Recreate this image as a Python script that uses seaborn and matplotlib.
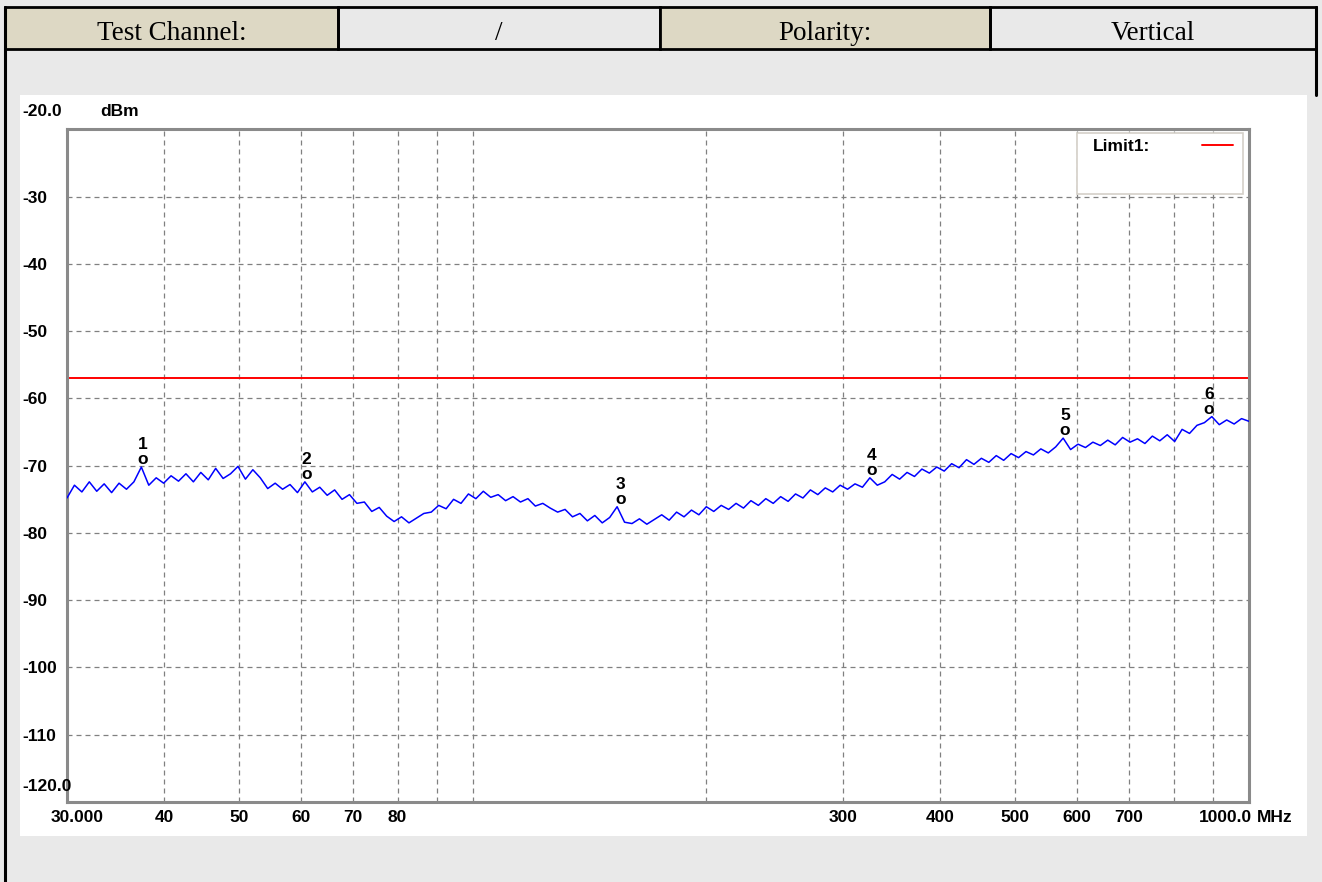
import numpy as np
import pandas as pd
import seaborn as sns
import matplotlib.pyplot as plt
from matplotlib.patches import Rectangle
from matplotlib.lines import Line2D

# --- data ---
header_text = ["Test Channel:", "/", "Polarity:", "Vertical"]

freq_min, freq_max = 30, 1000          # MHz
level_min, level_max = -120, -20       # dBm
y_ticks = [-30, -40, -50, -60, -70, -80, -90, -100, -110]
x_grid = [40, 50, 60, 70, 80, 90, 100, 200, 300, 400, 500, 600, 700, 800, 900]
x_labeled = [40, 50, 60, 70, 80, 300, 400, 500, 600, 700]

limit_level = -57.0

# measured trace (dBm), sweep points spread evenly on the log axis
trace_level = [
    -74.8, -72.9, -73.9, -72.4, -73.8, -72.7, -74.0, -72.6, -73.5, -72.4,
    -70.2, -72.9, -71.8, -72.6, -71.5, -72.3, -71.2, -72.4, -71.0, -72.1,
    -70.4, -71.9, -71.2, -70.1, -72.0, -70.6, -71.8, -73.4, -72.6, -73.5,
    -72.8, -74.0, -72.4, -73.9, -73.2, -74.4, -73.6, -75.0, -74.3, -75.6,
    -75.4, -76.8, -76.2, -77.5, -78.3, -77.6, -78.5, -77.8, -77.1, -76.9,
    -75.9, -76.4, -75.0, -75.6, -74.2, -74.9, -73.8, -74.7, -74.3, -75.2,
    -74.6, -75.4, -74.9, -76.0, -75.6, -76.3, -76.9, -76.5, -77.6, -77.1,
    -78.2, -77.4, -78.5, -77.7, -76.1, -78.4, -78.6, -77.9, -78.7, -78.0,
    -77.3, -78.1, -76.9, -77.6, -76.6, -77.3, -76.1, -76.8, -75.9, -76.5,
    -75.6, -76.3, -75.2, -75.9, -74.9, -75.6, -74.6, -75.3, -74.2, -74.8,
    -73.6, -74.3, -73.3, -73.9, -72.9, -73.5, -72.7, -73.2, -71.8, -72.9,
    -72.4, -71.3, -72.0, -71.0, -71.6, -70.5, -71.1, -70.2, -70.8, -69.7,
    -70.3, -69.1, -69.8, -68.9, -69.5, -68.5, -69.2, -68.2, -68.8, -67.9,
    -68.4, -67.5, -68.1, -67.2, -65.9, -67.6, -66.8, -67.3, -66.5, -67.0,
    -66.2, -66.9, -65.8, -66.5, -66.0, -66.7, -65.6, -66.3, -65.4, -66.4,
    -64.6, -65.2, -64.0, -63.6, -62.7, -63.9, -63.2, -63.8, -63.0, -63.4,
]
trace_freq = np.geomspace(freq_min, freq_max, len(trace_level))

marker_freq = [37.6, 61.0, 155.0, 326.0, 579.0, 888.0]
marker_level = [-70.2, -72.4, -76.1, -71.8, -65.9, -62.7]

trace = pd.DataFrame({"freq": trace_freq, "level": trace_level})

# --- figure ---
W, H = 1322, 882
sns.set_style("white")
plt.rcParams["font.family"] = ["Liberation Sans", "DejaVu Sans"]
plt.rcParams["text.color"] = "black"
plt.rcParams["xtick.color"] = "black"
plt.rcParams["ytick.color"] = "black"

fig = plt.figure(figsize=(W / 100, H / 100), dpi=100, facecolor="#e9e9e9")


def fx(x):
    return x / W


def fy(y):
    return 1 - y / H


# white panel behind the plot
fig.add_artist(Rectangle((fx(20), fy(836)), fx(1307) - fx(20), fy(95) - fy(836),
                         transform=fig.transFigure, facecolor="white",
                         edgecolor="none", zorder=-2))

# header table
cells = [(5, 338, "#ddd8c4"), (338, 660, "none"), (660, 990, "#ddd8c4"), (990, 1316, "none")]
for (x0, x1, fc), txt in zip(cells, header_text):
    fig.add_artist(Rectangle((fx(x0), fy(49)), fx(x1) - fx(x0), fy(7) - fy(49),
                             transform=fig.transFigure, facecolor=fc,
                             edgecolor="black", linewidth=2, zorder=-1))
    fig.text(fx((x0 + x1) / 2), fy(40), txt, ha="center", va="baseline",
             fontsize=19.5, family=["Liberation Serif", "DejaVu Serif"])
fig.add_artist(Line2D([fx(5), fx(5)], [fy(7), 0], transform=fig.transFigure,
                      color="black", linewidth=2.2, zorder=-1))
fig.add_artist(Line2D([fx(1316), fx(1316)], [fy(7), fy(95)], transform=fig.transFigure,
                      color="black", linewidth=2.2, zorder=-1))

ax = fig.add_axes([fx(67), fy(802), fx(1249) - fx(67), fy(129.4) - fy(802)])
ax.set_facecolor("white")

sns.lineplot(data=trace, x="freq", y="level", ax=ax, color="#0000ff",
             linewidth=1.1, estimator=None, sort=False, zorder=3)
lim = ax.axhline(limit_level, color="#ff0000", linewidth=1.4, zorder=2)

ax.set_xscale("log")
ax.set_xlim(freq_min, freq_max)
ax.set_ylim(level_min, level_max)
ax.set_xlabel("")
ax.set_ylabel("")

grid_style = dict(color="#808080", linewidth=0.9, linestyle=(0, (4, 3.2)), zorder=1)
for f in x_grid:
    ax.axvline(f, **grid_style)
for lv in y_ticks:
    ax.axhline(lv, **grid_style)

for s in ax.spines.values():
    s.set_color("#8a8a8a")
    s.set_linewidth(2.2)

tick_font = dict(fontsize=12.5, fontweight="bold", color="black")
ax.minorticks_off()
ax.set_xticks(x_labeled)
ax.set_xticklabels([str(f) for f in x_labeled], **tick_font)
ax.set_yticks(y_ticks)
ax.set_yticklabels([str(v) for v in y_ticks], ha="left", **tick_font)
ax.tick_params(axis="x", length=0, pad=6)
ax.tick_params(axis="y", length=0, pad=32.4)

edge = dict(textcoords="offset points", **tick_font)
ax.annotate("30.000", xy=(freq_min, 0), xycoords=("data", "axes fraction"),
            xytext=(-12, -6), ha="left", va="top", **edge)
ax.annotate("1000.0", xy=(freq_max, 0), xycoords=("data", "axes fraction"),
            xytext=(2, -6), ha="right", va="top", **edge)
ax.annotate("MHz", xy=(freq_max, 0), xycoords=("data", "axes fraction"),
            xytext=(6, -6), ha="left", va="top", **edge)
ax.annotate("-20.0", xy=(0, 1), xycoords="axes fraction",
            xytext=(-32.4, 13), ha="left", va="center", **edge)
ax.annotate("dBm", xy=(0, 1), xycoords="axes fraction",
            xytext=(23.8, 13), ha="left", va="center", **edge)
ax.annotate("-120.0", xy=(0, 0), xycoords="axes fraction",
            xytext=(-32.4, 11.5), ha="left", va="center", **edge)

# peak markers
for i, (f, lv) in enumerate(zip(marker_freq, marker_level), start=1):
    ax.annotate("o", xy=(f, lv), xytext=(0, 2.2), ha="center", va="baseline",
                zorder=4, **edge)
    ax.annotate(str(i), xy=(f, lv), xytext=(0, 13), ha="center", va="baseline",
                zorder=4, **edge)

# legend box (opaque, light border) with the limit entry on top
aw, ah = 1249 - 67, 802 - 129.4
ax.add_patch(Rectangle(((1077 - 67) / aw, 1 - (194 - 129.4) / ah),
                       (1243 - 1077) / aw, (194 - 133) / ah,
                       transform=ax.transAxes, facecolor="white",
                       edgecolor="#d4d0c8", linewidth=1.2, zorder=5))
leg = ax.legend(handles=[lim], labels=["Limit1:"],
                loc="upper right", bbox_to_anchor=((1233 - 67) / aw, 1 - (139 - 129.4) / ah),
                borderaxespad=0, borderpad=0, markerfirst=False, frameon=False,
                handlelength=1.8, handletextpad=3.0,
                prop={"size": 12.5, "weight": "bold"})
leg.set_zorder(6)

fig.savefig("out.png", dpi=100, facecolor=fig.get_facecolor())
